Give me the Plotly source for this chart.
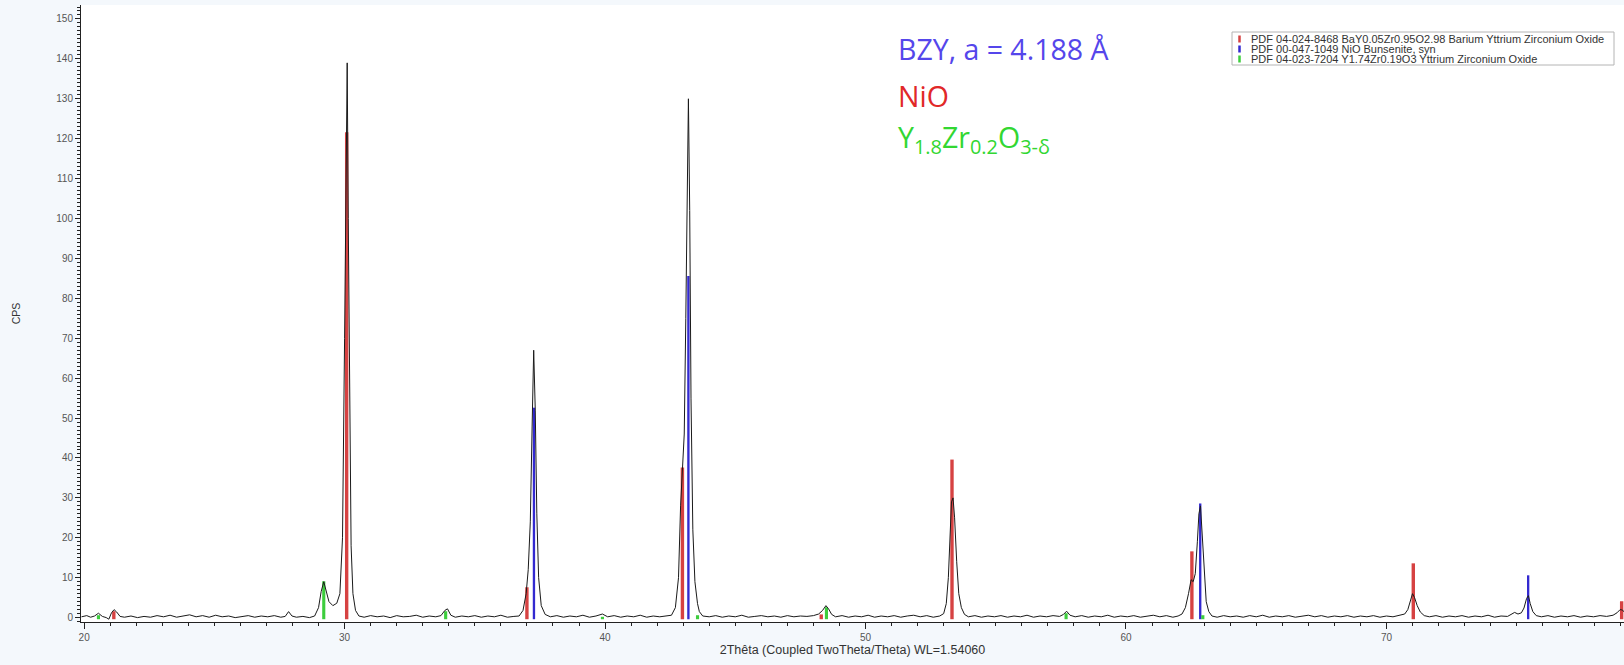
import plotly.graph_objects as go

two_theta = [
    19.9, 20.1, 20.25, 20.4, 20.55, 20.7, 20.85, 20.95, 21.05, 21.15, 21.25, 21.38, 21.55, 21.8,
    22.05, 22.3, 22.55, 22.8, 23.05, 23.3, 23.55, 23.8, 24.05, 24.3, 24.55, 24.8, 25.05, 25.3,
    25.55, 25.8, 26.05, 26.3, 26.55, 26.8, 27.05, 27.3, 27.55, 27.72, 27.85, 27.98, 28.15, 28.4,
    28.65, 28.85, 29.0, 29.1, 29.2, 29.3, 29.4, 29.55, 29.7, 29.82, 29.92, 30.0, 30.06, 30.1,
    30.14, 30.19, 30.25, 30.32, 30.42, 30.55, 30.75, 31.0, 31.25, 31.5, 31.75, 32.0, 32.25, 32.5,
    32.75, 33.0, 33.25, 33.5, 33.7, 33.85, 33.95, 34.08, 34.25, 34.5, 34.75, 35.0, 35.25, 35.5,
    35.75, 36.0, 36.25, 36.5, 36.7, 36.85, 36.97, 37.05, 37.13, 37.2, 37.26, 37.32, 37.38, 37.45,
    37.55, 37.7, 37.9, 38.15, 38.4, 38.65, 38.9, 39.15, 39.4, 39.65, 39.9, 40.1, 40.35, 40.6,
    40.85, 41.1, 41.35, 41.6, 41.85, 42.1, 42.35, 42.55, 42.7, 42.82, 42.9, 42.97, 43.04, 43.1,
    43.16, 43.2, 43.25, 43.3, 43.37, 43.45, 43.55, 43.62, 43.75, 44.0, 44.25, 44.5, 44.75, 45.0,
    45.25, 45.5, 45.75, 46.0, 46.25, 46.5, 46.75, 47.0, 47.25, 47.5, 47.75, 48.0, 48.2, 48.35,
    48.48, 48.58, 48.7, 48.85, 49.1, 49.35, 49.6, 49.85, 50.1, 50.35, 50.6, 50.85, 51.1, 51.35,
    51.6, 51.85, 52.1, 52.35, 52.6, 52.85, 53.0, 53.1, 53.18, 53.25, 53.3, 53.36, 53.42, 53.5,
    53.58, 53.68, 53.8, 53.95, 54.2, 54.45, 54.7, 54.95, 55.2, 55.45, 55.7, 55.95, 56.2, 56.45,
    56.7, 56.95, 57.2, 57.45, 57.6, 57.72, 57.85, 58.05, 58.3, 58.55, 58.8, 59.05, 59.3, 59.55,
    59.8, 60.05, 60.3, 60.55, 60.8, 61.05, 61.3, 61.55, 61.8, 62.0, 62.15, 62.28, 62.4, 62.5,
    62.58, 62.66, 62.74, 62.8, 62.86, 62.92, 63.0, 63.08, 63.18, 63.3, 63.5, 63.75, 64.0, 64.25,
    64.5, 64.75, 65.0, 65.25, 65.5, 65.75, 66.0, 66.25, 66.5, 66.75, 67.0, 67.25, 67.5, 67.75,
    68.0, 68.25, 68.5, 68.75, 69.0, 69.25, 69.5, 69.75, 70.0, 70.25, 70.5, 70.7, 70.82, 70.92,
    71.0, 71.08, 71.18, 71.3, 71.45, 71.65, 71.9, 72.15, 72.4, 72.65, 72.9, 73.15, 73.4, 73.65,
    73.9, 74.15, 74.4, 74.65, 74.8, 74.92, 75.05, 75.18, 75.28, 75.38, 75.45, 75.52, 75.62, 75.75,
    75.95, 76.2, 76.45, 76.7, 76.95, 77.2, 77.45, 77.7, 77.95, 78.2, 78.45, 78.7, 78.85, 78.97,
    79.05, 79.12,
]
cps = [
    0.2, 0.5, 0.1, 0.4, 1.1, 0.3, 0.0, -0.4, 1.2, 2.0, 1.4, 0.3, 0.1, 0.4,
    0.0, 0.3, 0.1, 0.5, 0.2, 0.6, 0.1, 0.4, 0.7, 0.2, 0.5, 0.1, 0.6, 0.2,
    0.4, 0.0, 0.3, 0.5, 0.1, 0.4, 0.2, 0.5, 0.1, 0.3, 1.5, 0.4, 0.1, 0.3,
    0.0, 0.4, 2.5, 6.5, 9.0, 6.2, 4.0, 3.0, 3.6, 6.0, 20.0, 70.0, 125.0, 139.0,
    100.0, 50.0, 18.0, 6.0, 1.8, 0.4, 0.1, 0.5, 0.2, 0.4, 0.0, 0.5, 0.2, 0.3,
    0.6, 0.1, 0.4, 0.2, 0.5, 1.8, 2.2, 0.6, 0.1, 0.4, 0.2, 0.5, 0.1, 0.4,
    0.2, 0.6, 0.1, 0.3, 0.4, 1.8, 6.0, 12.0, 24.0, 48.0, 67.0, 52.0, 26.0, 10.0,
    3.0, 0.8, 0.2, 0.5, 0.1, 0.4, 0.2, 0.6, 0.1, 0.4, 0.9, 0.2, 0.5, 0.1,
    0.4, 0.2, 0.6, 0.1, 0.4, 0.2, 0.5, 0.6, 2.5, 10.0, 28.0, 38.0, 46.0, 75.0,
    112.0, 130.0, 102.0, 55.0, 22.0, 9.0, 3.5, 1.5, 0.4, 0.2, 0.5, 0.1, 0.4, 0.2,
    0.6, 0.1, 0.3, 0.5, 0.2, 0.4, 0.1, 0.5, 0.2, 0.4, 0.3, 0.5, 0.9, 1.8,
    3.0, 2.2, 0.8, 0.2, 0.5, 0.1, 0.4, 0.2, 0.6, 0.1, 0.4, 0.2, 0.5, 0.1,
    0.4, 0.6, 0.2, 0.5, 0.1, 0.4, 1.0, 3.5, 10.0, 22.0, 29.0, 30.0, 25.0, 14.0,
    6.0, 2.5, 0.8, 0.2, 0.5, 0.1, 0.4, 0.2, 0.5, 0.1, 0.4, 0.2, 0.6, 0.1,
    0.4, 0.2, 0.5, 0.3, 0.8, 1.6, 0.6, 0.2, 0.5, 0.1, 0.4, 0.2, 0.6, 0.1,
    0.4, 0.2, 0.5, 0.1, 0.4, 0.6, 0.2, 0.5, 0.1, 0.4, 0.9, 2.5, 6.0, 9.5,
    9.0, 11.0, 19.0, 26.0, 28.0, 21.0, 10.0, 4.0, 1.5, 0.4, 0.1, 0.5, 0.2, 0.4,
    0.1, 0.5, 0.2, 0.6, 0.1, 0.4, 0.2, 0.5, 0.1, 0.4, 0.6, 0.2, 0.5, 0.1,
    0.4, 0.2, 0.5, 0.1, 0.4, 0.2, 0.5, 0.1, 0.4, 0.2, 0.5, 0.9, 2.0, 4.2,
    6.0, 5.0, 3.0, 1.4, 0.5, 0.2, 0.5, 0.1, 0.4, 0.2, 0.5, 0.1, 0.4, 0.2,
    0.6, 0.1, 0.4, 0.3, 0.8, 1.3, 0.9, 1.2, 2.4, 4.8, 5.5, 3.5, 1.5, 0.5,
    0.2, 0.5, 0.1, 0.4, 0.2, 0.5, 0.1, 0.4, 0.2, 0.5, 0.3, 0.6, 1.2, 2.0,
    1.9, 1.5,
]

# Reference stick patterns
bzy_name = "PDF 04-024-8468 BaY0.05Zr0.95O2.98 Barium Yttrium Zirconium Oxide"
bzy_pos = [21.14, 30.08, 37.0, 42.97, 48.3, 53.32, 62.53, 71.03, 79.03]
bzy_int = [2.0, 122.0, 8.0, 38.0, 1.2, 40.0, 17.0, 14.0, 4.5]

nio_name = "PDF 00-047-1049 NiO Bunsenite, syn"
nio_pos = [37.27, 43.2, 62.85, 75.44]
nio_int = [53.0, 86.0, 29.0, 11.0]

yzo_name = "PDF 04-023-7204 Y1.74Zr0.19O3 Yttrium Zirconium Oxide"
yzo_pos = [20.55, 29.2, 33.88, 39.9, 43.55, 48.5, 57.7, 62.95]
yzo_int = [1.0, 9.5, 2.0, 0.6, 1.0, 3.0, 1.5, 1.0]

phase_labels = ["BZY, a = 4.188 Å", "NiO", "Y<sub>1.8</sub>Zr<sub>0.2</sub>O<sub>3-δ</sub>"]

stick_names = [bzy_name, nio_name, yzo_name]
stick_colors = ["rgba(210,45,45,0.9)", "rgba(40,30,205,0.95)", "rgba(40,200,40,0.9)"]

fig = go.Figure()
fig.add_trace(go.Scatter(
    x=two_theta, y=cps, mode="lines",
    line=dict(color="#1a1a1a", width=1), showlegend=False, name="scan",
))
for name, pos, inten, col, w in zip(
    stick_names, [bzy_pos, nio_pos, yzo_pos], [bzy_int, nio_int, yzo_int],
    stick_colors, [0.13, 0.09, 0.12],
):
    fig.add_trace(go.Bar(
        x=pos, y=inten, base=-0.4, width=w, name=name, showlegend=False,
        marker=dict(color=col, line=dict(width=0)),
    ))

# Plot area geometry (px) used to place the compact legend box
L, R, T, B = 81, 1624, 5, 622
PW, PH = R - L, B - T


def px_x(p):
    return (p - L) / PW


def px_y(p):
    return (B - p) / PH


fig.update_layout(
    width=1624, height=665,
    margin=dict(l=L, r=1624 - R, t=T, b=665 - B),
    paper_bgcolor="#f4f8fc", plot_bgcolor="white",
    barmode="overlay", showlegend=False,
    font=dict(family="Arial, Liberation Sans", size=10, color="#444"),
    xaxis=dict(
        range=[19.88, 79.12], showgrid=False, zeroline=False,
        showline=True, linecolor="#222", linewidth=1,
        ticks="outside", ticklen=6, tickcolor="#222", dtick=10, tick0=0,
        minor=dict(ticks="outside", ticklen=3, dtick=1, tickcolor="#222"),
        tickfont=dict(size=10, color="#555"),
        title=dict(text="2Thêta (Coupled TwoTheta/Theta) WL=1.54060",
                   font=dict(size=12.5, color="#333"), standoff=3),
    ),
    yaxis=dict(
        range=[-1.1, 153.5], showgrid=False, zeroline=False,
        showline=True, linecolor="#222", linewidth=1,
        ticks="outside", ticklen=5, tickcolor="#222", dtick=10, tick0=0,
        minor=dict(ticks="outside", ticklen=3, dtick=1, tickcolor="#222"),
        tickfont=dict(size=10, color="#555"),
        title=dict(text="CPS", font=dict(size=10.5, color="#333"), standoff=33),
    ),
)

# Compact legend box (pattern list)
fig.add_shape(type="rect", xref="paper", yref="paper",
              x0=px_x(1232), x1=px_x(1614), y0=px_y(65), y1=px_y(32),
              line=dict(color="#b4b4b4", width=1), fillcolor="white", layer="above")
for i, (name, col) in enumerate(zip(stick_names, stick_colors)):
    cy = 39.0 + i * 10.0
    fig.add_shape(type="line", xref="paper", yref="paper",
                  x0=px_x(1239.5), x1=px_x(1239.5), y0=px_y(cy + 3.5), y1=px_y(cy - 3.5),
                  line=dict(color=col, width=2.5), layer="above")
    fig.add_annotation(text=name, xref="paper", yref="paper",
                       x=px_x(1249), y=px_y(cy), xanchor="left", yanchor="middle",
                       showarrow=False, font=dict(size=11, color="#333"))

label_colors = ["rgb(85,70,235)", "rgb(225,40,40)", "rgb(50,215,50)"]
label_y = [0.929, 0.853, 0.783]
for txt, col, yy in zip(phase_labels, label_colors, label_y):
    fig.add_annotation(
        text=txt, xref="paper", yref="paper", x=0.528, y=yy,
        xanchor="left", yanchor="middle", showarrow=False,
        font=dict(family="Open Sans", size=28.5, color=col),
    )

fig.write_html("out.html")
